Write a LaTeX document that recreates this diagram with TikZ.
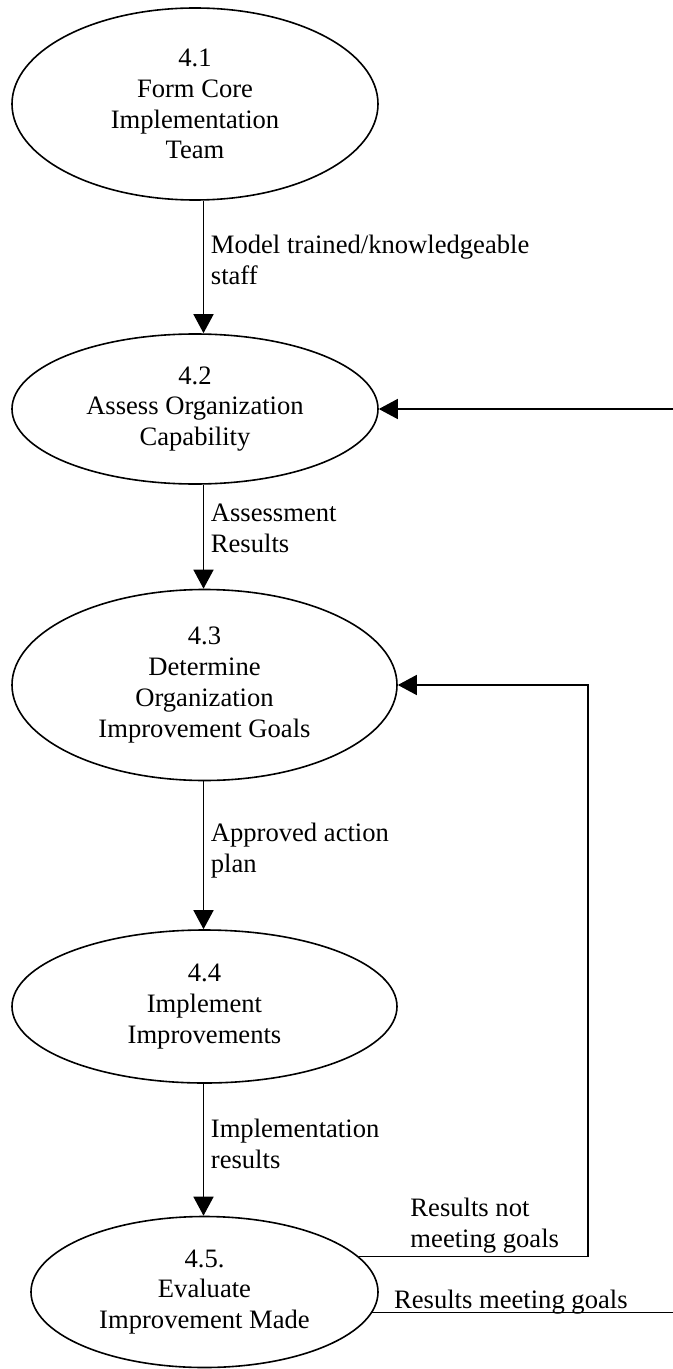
\documentclass[tikz,border=0pt]{standalone}
\usepackage{fontspec}
\setmainfont{Liberation Serif}
\usetikzlibrary{arrows.meta,positioning,shapes.geometric}

\tikzset{
  proc/.style={ellipse,draw,line width=0.8pt,inner sep=0pt,align=center,
    font=\fontsize{13.3}{15.4}\selectfont},
  flow/.style={line width=0.75pt,-{Triangle[length=9.5pt,width=10pt]}},
  flowtag/.style={align=left,font=\fontsize{13.3}{15.5}\selectfont},
}

\begin{document}
\begin{tikzpicture}[x=0.5pt,y=-0.5pt]
  \useasboundingbox (0,0) rectangle (673,1369);
  \coordinate (spine) at (203.5,0);
  \coordinate (rail) at (588,0);
  \coordinate (rim) at (673,0);

  \node[proc,minimum width=183pt,minimum height=96pt] (e1) at (195,104)
    {4.1\\Form Core\\Implementation\\Team};
  \node[proc,minimum width=183pt,minimum height=75pt] (e2) at (195,409)
    {4.2\\Assess Organization\\Capability};
  \node[proc,minimum width=192.5pt,minimum height=95.5pt] (e3) at (204.5,685)
    {4.3\\Determine\\Organization\\Improvement Goals};
  \node[proc,minimum width=192.5pt,minimum height=76.5pt] (e4) at (204.5,1006.5)
    {4.4\\Implement\\Improvements};
  \node[proc,minimum width=173.5pt,minimum height=75.5pt] (e5) at (204.5,1292)
    {4.5.\\Evaluate\\Improvement Made};

  \draw[flow] (e1.south -| spine) -- node[pos=0.45,right,flowtag]
    {Model trained/knowledgeable\\staff} (e2.north -| spine);
  \draw[flow] (e2.south -| spine) -- node[pos=0.42,right,flowtag]
    {Assessment\\Results} (e3.north -| spine);
  \draw[flow] (e3.south -| spine) -- node[pos=0.47,right,flowtag]
    {Approved action\\plan} (e4.north -| spine);
  \draw[flow] (e4.south -| spine) -- node[pos=0.455,right,flowtag]
    {Implementation\\results} (e5.north -| spine);

  \draw[flow] (e2 -| rim) -- (e2);
  \draw[flow] (e5.13.5) -- node[pos=0.214,anchor=south west,flowtag,inner sep=1pt]
    {Results not\\meeting goals} (e5.13.5 -| rail) |- (e3);
  \draw[line width=0.75pt] (e5.-7) -- node[pos=0.07,anchor=base west,yshift=2.25pt,
    flowtag,inner sep=0pt] {Results meeting goals} (e5.-7 -| rim);
\end{tikzpicture}
\end{document}
